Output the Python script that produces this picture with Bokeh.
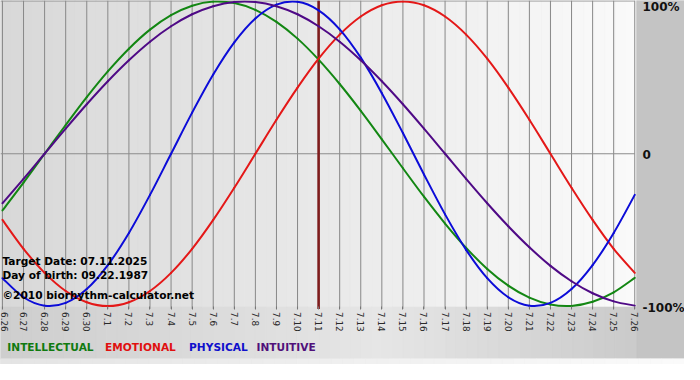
import math
import numpy as np
from bokeh.plotting import figure
from bokeh.models import Range1d, LinearAxis, FixedTicker
from bokeh.core.properties import value
from bokeh.embed import file_html
from bokeh.resources import INLINE

# ---------------- data ----------------
DATES = ["6.26", "6.27", "6.28", "6.29", "6.30", "7.1", "7.2", "7.3", "7.4", "7.5",
         "7.6", "7.7", "7.8", "7.9", "7.10", "7.11", "7.12", "7.13", "7.14", "7.15",
         "7.16", "7.17", "7.18", "7.19", "7.20", "7.21", "7.22", "7.23", "7.24", "7.25",
         "7.26"]
DAY_IDX = list(range(len(DATES)))

INTELLECTUAL = [-0.372, -0.189, 0.0, 0.189, 0.372, 0.541, 0.690, 0.815, 0.910, 0.972,
                0.999, 0.990, 0.945, 0.866, 0.756, 0.618, 0.458, 0.282, 0.095, -0.095,
                -0.282, -0.458, -0.618, -0.756, -0.866, -0.945, -0.990, -0.999, -0.972,
                -0.910, -0.815]
EMOTIONAL = [-0.434, -0.624, -0.782, -0.901, -0.975, -1.0, -0.975, -0.901, -0.782, -0.624,
             -0.434, -0.223, 0.0, 0.223, 0.434, 0.624, 0.782, 0.901, 0.975, 1.0,
             0.975, 0.901, 0.782, 0.624, 0.434, 0.223, 0.0, -0.223, -0.434, -0.624,
             -0.782]
PHYSICAL = [-0.817, -0.942, -0.998, -0.979, -0.888, -0.731, -0.520, -0.270, 0.0, 0.270,
            0.520, 0.731, 0.888, 0.979, 0.998, 0.942, 0.817, 0.631, 0.398, 0.136,
            -0.136, -0.398, -0.631, -0.817, -0.942, -0.998, -0.979, -0.888, -0.731,
            -0.520, -0.270]
INTUITIVE = [-0.325, -0.165, 0.0, 0.165, 0.325, 0.476, 0.614, 0.736, 0.837, 0.916,
             0.969, 0.997, 0.997, 0.969, 0.916, 0.837, 0.736, 0.614, 0.476, 0.325,
             0.165, 0.0, -0.165, -0.325, -0.476, -0.614, -0.736, -0.837, -0.916,
             -0.969, -0.997]

TARGET_DAY = "7.11"
RIGHT_TICKS = [1, 0, -1]
RIGHT_LABELS = ["100%", "0", "-100%"]
INFO_LINES = ["Target Date: 07.11.2025", "Day of birth: 09.22.1987",
              "\u00a92010 biorhythm-calculator.net"]
LEGEND_NAMES = ["INTELLECTUAL", "EMOTIONAL", "PHYSICAL", "INTUITIVE"]

# ---------------- styling ----------------
C_INT = "#138713"
C_EMO = "#e41818"
C_PHY = "#0c0cd8"
C_ITU = "#4f0a86"
LEG_COLORS = ["#107a10", "#e01010", "#1010cc", "#50107a"]
FONT = "DejaVu Sans"

W, H = 684, 364          # figure size (reference is 700x380, scaled to fit)
REF_W, REF_H = 700, 380
X0_PX, PX_PER_DAY = 2.0, 21.57
ZERO_PX, PX_PER_UNIT = 160.0, 159.0


def dx(px):
    return (px - X0_PX) / PX_PER_DAY


def dy(py):
    return (ZERO_PX - py) / PX_PER_UNIT


def gray(v):
    v = int(round(v))
    return "#%02x%02x%02x" % (v, v, v)


def smooth_curve(fig, xs, ys, color):
    """Draw a smooth curve through the data points as cubic Bezier pieces
    (Catmull-Rom control points taken from neighbouring data points)."""
    n = len(xs)
    seg = dict(x0=[], y0=[], x1=[], y1=[], cx0=[], cy0=[], cx1=[], cy1=[])
    for i in range(n - 1):
        a = max(i - 1, 0)
        b = min(i + 2, n - 1)
        seg["x0"].append(xs[i]); seg["y0"].append(ys[i])
        seg["x1"].append(xs[i + 1]); seg["y1"].append(ys[i + 1])
        seg["cx0"].append(xs[i] + (xs[i + 1] - xs[a]) / 6.0)
        seg["cy0"].append(ys[i] + (ys[i + 1] - ys[a]) / 6.0)
        seg["cx1"].append(xs[i + 1] - (xs[b] - xs[i]) / 6.0)
        seg["cy1"].append(ys[i + 1] - (ys[b] - ys[i]) / 6.0)
    fig.bezier(**seg, line_color=color, line_width=2, line_cap="round")


p = figure(width=W, height=H, output_backend="svg", toolbar_location=None,
           x_range=Range1d(dx(0), dx(REF_W)), y_range=Range1d(dy(REF_H), dy(0)),
           x_axis_location=None, y_axis_location=None,
           min_border_left=0, min_border_right=0, min_border_top=0, min_border_bottom=0)
p.outline_line_color = None
p.background_fill_color = "#d8d8d8"
p.border_fill_color = "#d8d8d8"
p.grid.visible = False

# plot area gradient
n = 60
edges = np.linspace(dx(0), dx(651), n + 1)
cols = [gray(216 + (250 - 216) * k / (n - 1)) for k in range(n)]
p.quad(left=edges[:-1], right=edges[1:], bottom=dy(320), top=dy(0),
       fill_color=cols, line_color=cols, line_width=0.6)

# bottom strip gradient
edges_b = np.linspace(dx(0), dx(651), n + 1)
cols_b = []
for k in range(n):
    f = k / (n - 1)
    if f < 0.6:
        v = 206 + (230 - 206) * f / 0.6
    else:
        v = 230 - (230 - 203) * (f - 0.6) / 0.4
    cols_b.append(gray(v))
p.quad(left=edges_b[:-1], right=edges_b[1:], bottom=dy(374), top=dy(320),
       fill_color=cols_b, line_color=cols_b, line_width=0.6)

# right column
p.quad(left=dx(651), right=dx(REF_W), bottom=dy(374), top=dy(0),
       fill_color="#c4c4c4", line_color="#c4c4c4", line_width=0.6)

# bottom row
edges_r = np.linspace(dx(0), dx(REF_W), n + 1)
cols_r = [gray(228 + (250 - 228) * k / (n - 1)) for k in range(n)]
p.quad(left=edges_r[:-1], right=edges_r[1:], bottom=dy(REF_H), top=dy(374),
       fill_color=cols_r, line_color=cols_r, line_width=0.6)

# grid lines
p.segment(x0=DAY_IDX, y0=dy(322), x1=DAY_IDX, y1=dy(0), line_color="#888888", line_width=1)
p.segment(x0=dx(0), y0=0, x1=DAY_IDX[-1], y1=0, line_color="#8c8c8c", line_width=1)
p.segment(x0=dx(0), y0=dy(0.5), x1=DAY_IDX[-1], y1=dy(0.5), line_color="#8c8c8c", line_width=1)

# target line
t_idx = DATES.index(TARGET_DAY)
p.segment(x0=t_idx, y0=dy(322), x1=t_idx, y1=dy(0), line_color="#7e1c1c", line_width=2.6)

# curves
smooth_curve(p, DAY_IDX, INTELLECTUAL, C_INT)
smooth_curve(p, DAY_IDX, EMOTIONAL, C_EMO)
smooth_curve(p, DAY_IDX, PHYSICAL, C_PHY)
smooth_curve(p, DAY_IDX, INTUITIVE, C_ITU)

# bottom date axis
xaxis = LinearAxis(fixed_location=-1.0, ticker=FixedTicker(ticks=DAY_IDX),
                   major_label_overrides={i: d for i, d in zip(DAY_IDX, DATES)},
                   major_label_orientation=-math.pi / 2,
                   axis_line_color=None, major_tick_line_color="#777777",
                   major_tick_in=0, major_tick_out=3, minor_tick_line_color=None,
                   major_label_text_font=FONT, major_label_text_font_size="8.8px",
                   major_label_text_color="#2a2a2a", major_label_standoff=3)
p.add_layout(xaxis, "below")

# right percentage labels
p.text(x=dx(657), y=RIGHT_TICKS, text=RIGHT_LABELS, y_offset=[6, 1, 2],
       text_font=value(FONT), text_font_style="bold", text_font_size="12px",
       text_baseline="middle", text_align="left", text_color="#111111")

# info text
p.text(x=[dx(2)] * 3, y=[dy(272), dy(287), dy(307)], text=INFO_LINES,
       text_font=value(FONT), text_font_style="bold", text_font_size="10.6px",
       text_baseline="middle", text_align="left", text_color="#000000")

# legend text
p.text(x=[dx(7), dx(107), dx(193), dx(262)], y=[dy(362)] * 4, text=LEGEND_NAMES,
       text_color=LEG_COLORS, text_font=value(FONT), text_font_style="bold",
       text_font_size="10.6px", text_baseline="middle", text_align="left")

open("out.html", "w").write(file_html(p, INLINE))
